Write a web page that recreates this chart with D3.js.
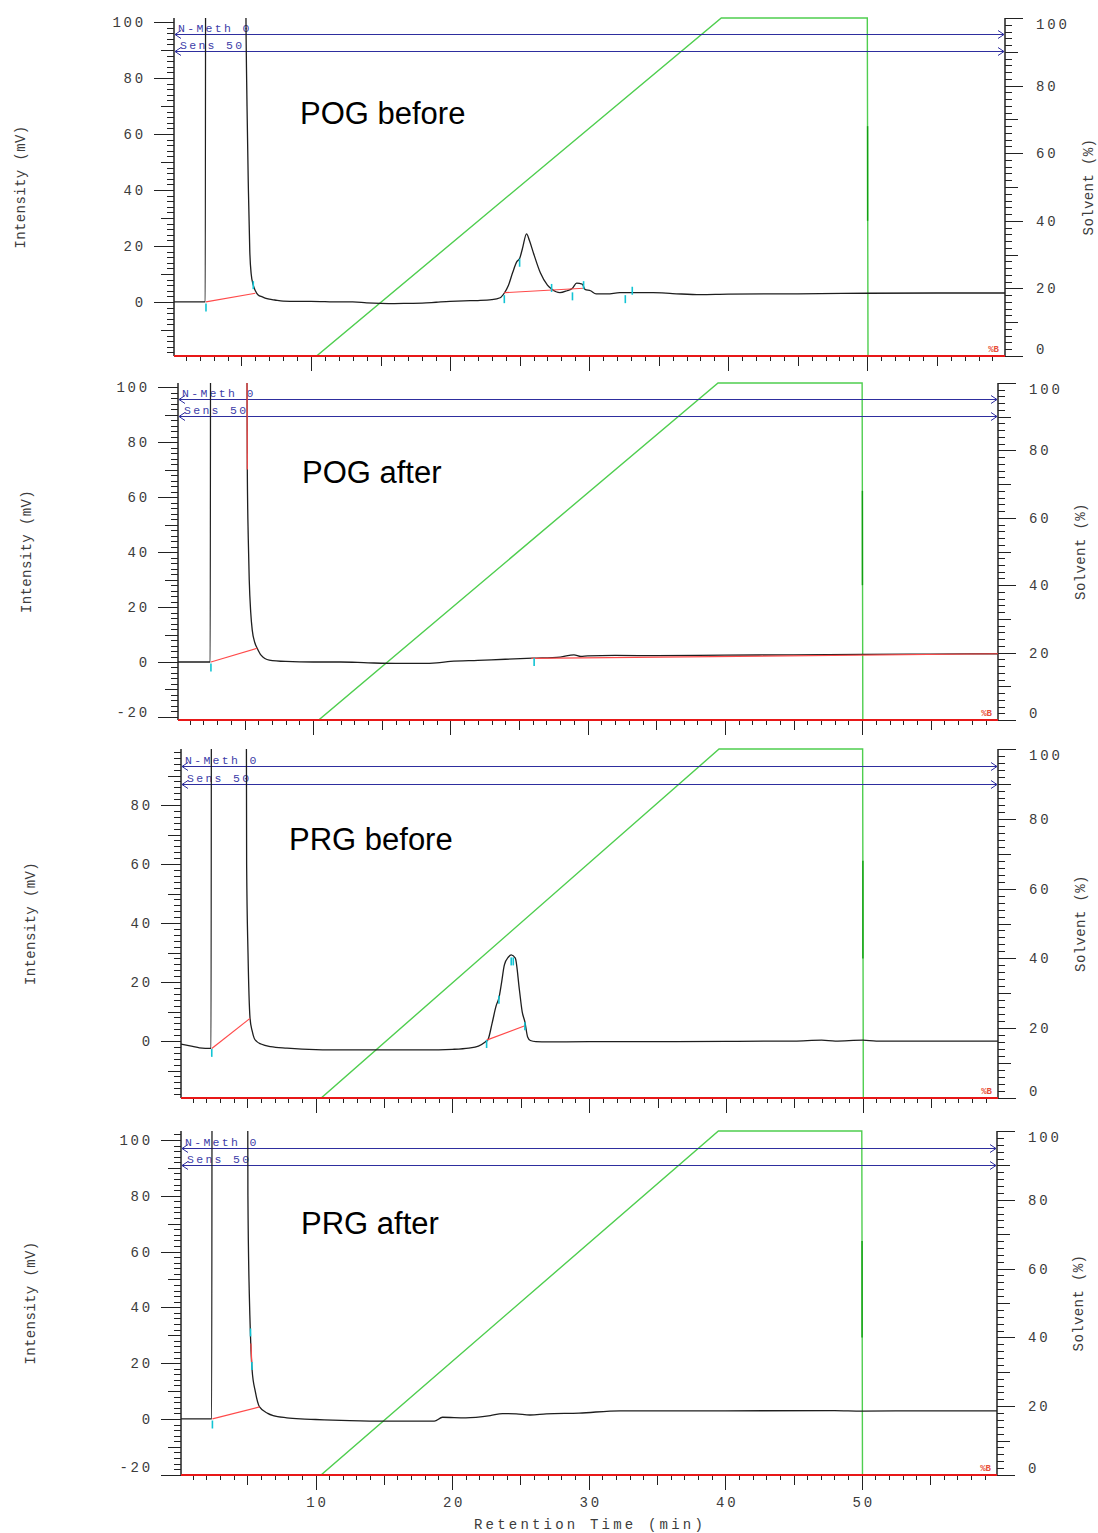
<!DOCTYPE html>
<html>
<head>
<meta charset="utf-8">
<script src="https://cdn.jsdelivr.net/npm/d3@7"></script>
<style>
  body { margin: 0; background: #fff; }
  svg { display: block; }
  .mono { font-family: "Liberation Mono", "Courier New", monospace; }
</style>
</head>
<body>
<svg id="chart" width="1098" height="1533"></svg>
<script>
// ---- data ----
const panelTitles = ['POG before', 'POG after', 'PRG before', 'PRG after'];
const timeTicks = [10, 20, 30, 40, 50];
const intensityTicks = [-20, 0, 20, 40, 60, 80, 100];
const solventTicks = [0, 20, 40, 60, 80, 100];
const eventLabels = ['N-Meth 0', 'Sens 50'];
const eventLevels = [95.2, 90.1]; // in % solvent

// gradient %B program
const gradientTime = [0.15, 10.4, 39.5, 50.0, 50.05, 59.9];
const gradientB = [0, 0, 100, 100, 0, 0];
const gradientDropMark = [40, 68]; // darker stretch of the drop at 50 min

// chromatograms [time (min), intensity (mV)]; values above 100 are off scale
const pogBefore = [
  [0.15, 0], [2.40, 0], [2.45, 300], [5.22, 300], [5.30, 120], [5.40, 70], [5.50, 40],
  [5.60, 18], [5.70, 10], [5.85, 6], [6.0, 4], [6.2, 2.5], [6.5, 1.8], [6.7, 1.4],
  [7.0, 1.0], [7.4, 0.7], [8, 0.3], [9, 0.2], [10, 0.2], [11, 0.1], [12, 0], [13, 0],
  [14, -0.3], [15, -0.5], [16, -0.6], [17, -0.5], [18, -0.4], [19, -0.1], [20, 0.2],
  [21, 0.4], [22, 0.5], [23, 0.8], [23.6, 1.5], [23.9, 3.2], [24.2, 6], [24.5, 10.5],
  [24.8, 14.4], [25.0, 15.5], [25.2, 19], [25.5, 24.3], [25.7, 22], [26.0, 17.4],
  [26.5, 10.3], [27.0, 6], [27.3, 4.6], [27.9, 3.3], [28.4, 4.0], [28.8, 4.9],
  [29.1, 6.7], [29.5, 6.4], [29.7, 4.5], [30.1, 4], [30.5, 2.9], [31.3, 2.9],
  [32.2, 3.3], [32.9, 3.3], [34.6, 3.3], [36, 3.0], [38, 2.6], [40, 2.8], [45, 2.9],
  [50, 3.1], [55, 3.2], [59.9, 3.2]
];
const pogAfter = [
  [0.15, 0], [2.50, 0], [2.55, 300], [5.10, 300], [5.18, 101], [5.20, 70], [5.27, 45],
  [5.34, 30], [5.45, 18], [5.56, 11.6], [5.75, 7], [5.92, 5], [6.2, 2.5], [6.8, 0.7],
  [8, 0.2], [10, 0], [12, 0], [14, -0.3], [16, -0.5], [18, -0.5], [19, -0.3], [20, 0.2],
  [22, 0.6], [24, 1.0], [26, 1.4], [28, 1.8], [29, 2.6], [29.5, 2.0], [30, 2.2],
  [32, 2.4], [35, 2.3], [40, 2.5], [45, 2.6], [50, 2.8], [55, 2.9], [59.9, 3.0]
];
const prgBefore = [
  [0.15, -1.0], [1.0, -1.8], [1.5, -2.3], [2.35, -2.5], [2.40, 300], [4.85, 300],
  [4.95, 60], [5.05, 30], [5.2, 7.7], [5.35, 3.5], [5.5, 1.0], [5.7, -0.2], [6.0, -1.0],
  [6.7, -1.9], [7.9, -2.4], [9, -2.7], [12, -3.0], [15, -3.0], [18, -3.0], [20, -2.8],
  [21.2, -2.4], [21.9, -1.7], [22.4, -0.3], [22.6, 0.5], [22.9, 6], [23.2, 12],
  [23.4, 14.6], [23.6, 20], [23.8, 25.8], [24.1, 28.5], [24.3, 29.2], [24.6, 28.1],
  [24.9, 17.3], [25.1, 10], [25.3, 6.5], [25.5, 1.4], [25.7, 0.2], [26.1, -0.2],
  [27, -0.3], [30, -0.2], [35, -0.2], [40, -0.1], [45, 0], [47, 0.3], [48, 0],
  [50, 0.3], [51, 0], [55, 0], [59.9, 0]
];
const prgAfter = [
  [0.15, 0], [2.40, 0], [2.45, 300], [4.95, 300], [5.05, 80], [5.15, 45], [5.2, 35.7],
  [5.35, 17.9], [5.6, 9.6], [5.9, 4.3], [6.5, 2.0], [6.9, 1.2], [7.9, 0.4], [8.9, 0],
  [10, -0.2], [12.5, -0.6], [15, -0.8], [18.7, -0.8], [19.3, 0.6], [21, 0.4],
  [22.8, 1.2], [23.7, 1.9], [24.7, 1.8], [25.7, 1.4], [26.9, 1.8], [29.3, 2.1],
  [32.3, 2.9], [40, 2.9], [48, 3.0], [50, 2.8], [55, 2.9], [59.9, 2.9]
];
const signals = [pogBefore, pogAfter, prgBefore, prgAfter];

// integration baselines (red) per panel: [[t1, v1], [t2, v2]]
const baselines = [
  [[[2.45, 0], [6.0, 3.1]], [[23.9, 3.3], [29.6, 4.9]]],
  [[[2.55, 0], [5.92, 5]], [[5.18, 103], [5.20, 70]], [[25.9, 1.3], [59.9, 3.0]]],
  [[[2.40, -2.5], [5.2, 7.7]], [[22.5, 0.3], [25.3, 5.2]]],
  [[[2.45, 0], [5.9, 4.3]], [[5.273, 27], [5.333, 20]]]
];
// peak markers (cyan) per panel: [time, intensity at marker centre]
const markers = [
  [[2.45, -2], [5.85, 6], [23.9, 1], [25.0, 14], [27.3, 5], [28.8, 2], [29.6, 6], [32.6, 1], [33.1, 4]],
  [[2.55, -2], [26.1, 0]],
  [[2.40, -4], [22.5, -1], [23.4, 14], [24.3, 27], [24.45, 27], [25.3, 5]],
  [[2.45, -2], [5.24, 31], [5.34, 19]]
];

// ---- layout ----
const layout = [
  { left: 174, right: 1005, top: 18, bottom: 356, yMin: -19.3, yMax: 101.4, yLabelX: 20, sLabelX: 1088, titleX: 300, titleY: 124 },
  { left: 178, right: 998, top: 383, bottom: 720, yMin: -21.1, yMax: 101.5, yLabelX: 26, sLabelX: 1080, titleX: 302, titleY: 483 },
  { left: 181, right: 998, top: 749, bottom: 1098, yMin: -19.3, yMax: 99, yLabelX: 30, sLabelX: 1080, titleX: 289, titleY: 850 },
  { left: 181, right: 997, top: 1131, bottom: 1475, yMin: -20.1, yMax: 103.2, yLabelX: 30, sLabelX: 1078, titleX: 301, titleY: 1234 }
];

const svg = d3.select('#chart');
const labelColor = '#3c3c3c';
const blue = '#2e2e9e';

layout.forEach((p, i) => {
  const x = d3.scaleLinear().domain([0.15, 59.9]).range([p.left, p.right]);
  const y = d3.scaleLinear().domain([p.yMin, p.yMax]).range([p.bottom, p.top]);
  const s = d3.scaleLinear().domain([0, 100]).range([p.bottom, p.top]);

  const g = svg.append('g').attr('class', 'panel');

  g.append('clipPath').attr('id', 'clip' + i)
    .append('rect')
    .attr('x', p.left).attr('y', p.top)
    .attr('width', p.right - p.left).attr('height', p.bottom - p.top);

  // left intensity axis
  const yMinor = d3.range(Math.ceil(p.yMin / 2) * 2, p.yMax + 0.01, 2);
  g.append('line')
    .attr('x1', p.left).attr('x2', p.left)
    .attr('y1', p.top).attr('y2', p.bottom)
    .attr('stroke', '#222').attr('stroke-width', 1.5);
  g.selectAll('.ytick').data(yMinor).enter().append('line')
    .attr('x1', p.left)
    .attr('x2', d => p.left - (d % 20 === 0 ? 20 : d % 10 === 0 ? 13 : 7))
    .attr('y1', d => Math.round(y(d)) + 0.5).attr('y2', d => Math.round(y(d)) + 0.5)
    .attr('stroke', '#222').attr('stroke-width', 1);
  g.selectAll('.ylab').data(intensityTicks.filter(d => d >= p.yMin && d <= p.yMax)).enter().append('text')
    .attr('class', 'mono')
    .attr('x', p.left - 28)
    .attr('y', d => Math.min(y(d) + 5, p.bottom - 3))
    .attr('text-anchor', 'end')
    .attr('font-size', 14).attr('letter-spacing', 2.8)
    .attr('fill', labelColor)
    .text(d => d);
  g.append('text')
    .attr('class', 'mono')
    .attr('transform', `translate(${p.yLabelX + 5},${(p.top + p.bottom) / 2}) rotate(-90)`)
    .attr('text-anchor', 'middle')
    .attr('font-size', 14).attr('letter-spacing', 0.4)
    .attr('fill', labelColor)
    .text('Intensity (mV)');

  // right solvent axis
  const sMinor = d3.range(0, 101, 2);
  g.append('line')
    .attr('x1', p.right).attr('x2', p.right)
    .attr('y1', p.top).attr('y2', p.bottom)
    .attr('stroke', '#222').attr('stroke-width', 1.5);
  g.selectAll('.stick').data(sMinor).enter().append('line')
    .attr('x1', p.right)
    .attr('x2', d => p.right + (d % 20 === 0 ? 18 : d % 10 === 0 ? 13 : 7))
    .attr('y1', d => Math.round(s(d)) + 0.5).attr('y2', d => Math.round(s(d)) + 0.5)
    .attr('stroke', '#222').attr('stroke-width', 1);
  g.selectAll('.slab').data(solventTicks).enter().append('text')
    .attr('class', 'mono')
    .attr('x', p.right + 31)
    .attr('y', d => Math.max(Math.min(s(d) + 5, p.bottom - 2), p.top + 11))
    .attr('font-size', 14).attr('letter-spacing', 2.8)
    .attr('fill', labelColor)
    .text(d => d);
  g.append('text')
    .attr('class', 'mono')
    .attr('transform', `translate(${p.sLabelX + 5},${(p.top + p.bottom) / 2}) rotate(-90)`)
    .attr('text-anchor', 'middle')
    .attr('font-size', 14).attr('letter-spacing', 0.4)
    .attr('fill', labelColor)
    .text('Solvent (%)');

  // bottom time axis
  const xMinor = d3.range(1, 60, 1);
  g.selectAll('.xtick').data(xMinor).enter().append('line')
    .attr('x1', d => Math.round(x(d)) + 0.5).attr('x2', d => Math.round(x(d)) + 0.5)
    .attr('y1', p.bottom)
    .attr('y2', d => p.bottom + (d % 10 === 0 ? 15 : d % 5 === 0 ? 10 : 5))
    .attr('stroke', '#222').attr('stroke-width', 1);
  if (i === layout.length - 1) {
    g.selectAll('.xlab').data(timeTicks).enter().append('text')
      .attr('class', 'mono')
      .attr('x', d => x(d) + 2)
      .attr('y', p.bottom + 32)
      .attr('text-anchor', 'middle')
      .attr('font-size', 14).attr('letter-spacing', 2.8)
      .attr('fill', labelColor)
      .text(d => d);
    g.append('text')
      .attr('class', 'mono')
      .attr('x', 590).attr('y', p.bottom + 54)
      .attr('text-anchor', 'middle')
      .attr('font-size', 14).attr('letter-spacing', 3.2)
      .attr('fill', labelColor)
      .text('Retention Time (min)');
  }

  // gradient %B
  const gradLine = d3.line().x(d => x(d[0])).y(d => s(d[1]));
  g.append('path')
    .datum(d3.zip(gradientTime, gradientB))
    .attr('d', gradLine)
    .attr('fill', 'none').attr('stroke', '#4fce4f').attr('stroke-width', 1.4);
  g.append('line')
    .attr('x1', x(50.02)).attr('x2', x(50.02))
    .attr('y1', s(gradientDropMark[0])).attr('y2', s(gradientDropMark[1]))
    .attr('stroke', '#11a011').attr('stroke-width', 1.4);

  // bottom axis line (red, %B trace baseline)
  g.append('line')
    .attr('x1', p.left).attr('x2', p.right)
    .attr('y1', p.bottom).attr('y2', p.bottom)
    .attr('stroke', '#e81818').attr('stroke-width', 2);
  g.append('text')
    .attr('class', 'mono')
    .attr('x', p.right - 6).attr('y', p.bottom - 4)
    .attr('text-anchor', 'end')
    .attr('font-size', 9).attr('font-weight', 'bold')
    .attr('fill', '#e8503a')
    .text('%B');

  // event lines
  eventLevels.forEach((lv, k) => {
    const yy = Math.round(s(lv)) + 0.5;
    g.append('line')
      .attr('x1', p.left + 1).attr('x2', p.right - 1)
      .attr('y1', yy).attr('y2', yy)
      .attr('stroke', blue).attr('stroke-width', 1);
    g.append('path')
      .attr('d', `M${p.left + 7},${yy - 4}L${p.left + 1},${yy}L${p.left + 7},${yy + 4}`)
      .attr('fill', 'none').attr('stroke', blue).attr('stroke-width', 1);
    g.append('path')
      .attr('d', `M${p.right - 7},${yy - 4}L${p.right - 1},${yy}L${p.right - 7},${yy + 4}`)
      .attr('fill', 'none').attr('stroke', blue).attr('stroke-width', 1);
    g.append('text')
      .attr('class', 'mono')
      .attr('x', p.left + 4 + k * 2).attr('y', yy - 3)
      .attr('font-size', 11.5).attr('letter-spacing', 2.3)
      .attr('fill', '#3d3da8')
      .text(eventLabels[k]);
  });

  // chromatogram
  const sigLine = d3.line().x(d => x(d[0])).y(d => y(d[1])).curve(d3.curveMonotoneX);
  const segLine = d3.line().x(d => x(d[0])).y(d => y(d[1]));
  const plot = g.append('g').attr('clip-path', `url(#clip${i})`);
  plot.append('path')
    .datum(signals[i])
    .attr('d', sigLine)
    .attr('fill', 'none').attr('stroke', '#1e1e1e').attr('stroke-width', 1.3);

  plot.selectAll('.base').data(baselines[i]).enter().append('path')
    .attr('d', segLine)
    .attr('fill', 'none').attr('stroke', '#ff4a4a').attr('stroke-width', 1.2);

  plot.selectAll('.mark').data(markers[i]).enter().append('line')
    .attr('x1', d => x(d[0])).attr('x2', d => x(d[0]))
    .attr('y1', d => y(d[1]) - 4).attr('y2', d => y(d[1]) + 4)
    .attr('stroke', '#12c4d4').attr('stroke-width', 1.6);

  // title
  g.append('text')
    .attr('x', p.titleX).attr('y', p.titleY)
    .attr('font-family', '"Liberation Sans", Arial, sans-serif')
    .attr('font-size', 31)
    .attr('fill', '#000')
    .text(panelTitles[i]);
});
</script>
</body>
</html>
